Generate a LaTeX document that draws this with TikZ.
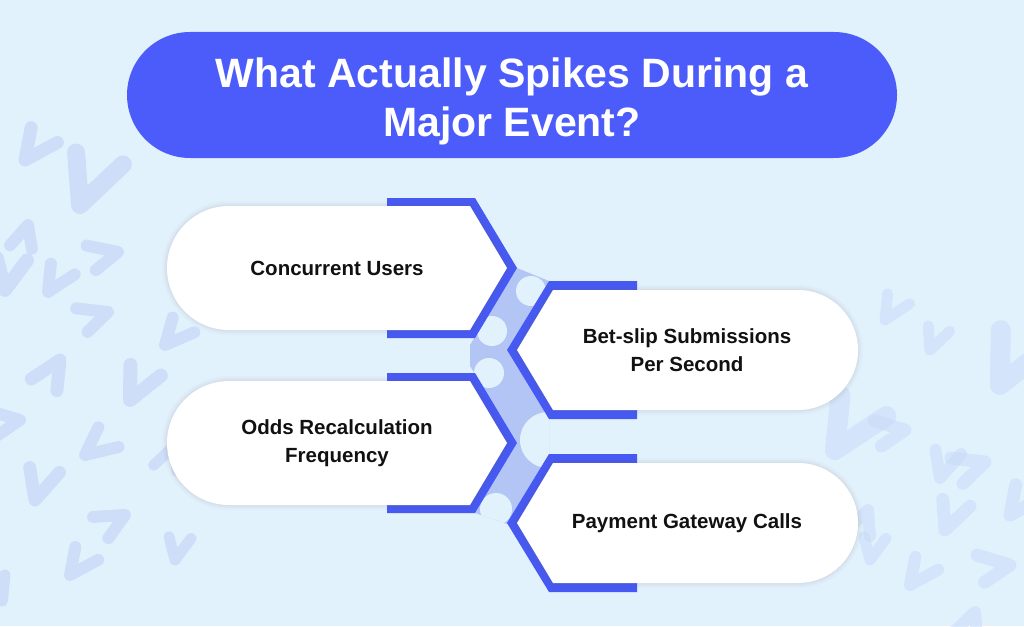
\documentclass[tikz,border=0pt]{standalone}
\usepackage{fontspec}
\setmainfont{Liberation Sans}
\definecolor{bgc}{HTML}{E2F2FD}
\definecolor{vpat}{HTML}{C9DAF9}
\definecolor{titleblue}{HTML}{4B5CFB}
\definecolor{edgeblue}{HTML}{4659F3}
\definecolor{bandc}{HTML}{B2C5F5}
\definecolor{txt}{HTML}{111111}
\tikzset{
  vmk/.style={draw=vpat, line cap=round, line join=round},
  cardtext/.style={text=txt, align=center, font=\bfseries\fontsize{20.5}{28}\selectfont},
  titletext/.style={text=white, align=center, font=\bfseries\fontsize{41}{49}\selectfont},
  cardhalo/.style={preaction={draw=black!60, draw opacity=0.03, line width=10pt},
                   preaction={draw=black!60, draw opacity=0.04, line width=6pt},
                   preaction={draw=black!60, draw opacity=0.05, line width=2.5pt}},
}
\newcommand\bgv[5]{\draw[vmk, line width=#5, shift={(#1,#2)}, rotate=#3, scale=#4] (-0.45,-1) -- (0,0) -- (0.55,-1.1);}
\newcommand\leftcard[3]{%
  \fill[edgeblue] (387,#2-70) -- (475,#2-70) -- (517,#2) -- (475,#2+70) -- (387,#2+70) -- cycle;
  \fill[white, cardhalo] (229,#2-62) -- (470,#2-62) -- (507,#2) -- (470,#2+62) -- (229,#2+62) arc[start angle=90, end angle=270, radius=62] -- cycle;
  \node[cardtext] (#1) at (337,#2) {#3};
}
\newcommand\rightcard[3]{%
  \fill[edgeblue] (507,#2) -- (549,#2-69) -- (637,#2-69) -- (637,#2+69) -- (549,#2+69) -- cycle;
  \fill[white, cardhalo] (517,#2) -- (553,#2-60) -- (798,#2-60) arc[start angle=270, end angle=450, radius=60] -- (553,#2+60) -- cycle;
  \node[cardtext] (#1) at (687,#2) {#3};
}
\begin{document}
\begin{tikzpicture}[x=1pt, y=-1pt]
\useasboundingbox (0,0) rectangle (1024,626);
\fill[bgc] (0,0) rectangle (1024,626);
% background pattern, left
\begin{scope}[opacity=0.8]
\bgv{25}{160}{-35}{30}{13}
\bgv{80}{205}{-20}{48}{18}
\bgv{28}{225}{165}{22}{12}
\bgv{118}{252}{105}{26}{12}
\bgv{48}{292}{-30}{26}{12}
\bgv{108}{312}{110}{26}{12}
\bgv{5}{290}{-10}{30}{14}
\bgv{165}{345}{-40}{26}{12}
\bgv{60}{360}{150}{28}{13}
\bgv{130}{400}{-25}{32}{14}
\bgv{20}{420}{100}{26}{12}
\bgv{85}{455}{-50}{28}{12}
\bgv{175}{445}{160}{24}{11}
\bgv{35}{500}{-15}{30}{13}
\bgv{125}{515}{120}{26}{12}
\bgv{70}{575}{-35}{26}{12}
\bgv{175}{560}{-10}{22}{11}
\bgv{5}{575}{150}{24}{11}
\end{scope}
% background pattern, right
\begin{scope}[opacity=0.55]
\bgv{1000}{385}{-25}{50}{20}
\bgv{905}{430}{100}{26}{13}
\bgv{835}{450}{-30}{50}{20}
\bgv{940}{478}{-15}{26}{12}
\bgv{985}{462}{110}{28}{13}
\bgv{1010}{515}{-35}{28}{13}
\bgv{868}{510}{160}{24}{12}
\bgv{945}{530}{-20}{28}{13}
\bgv{1010}{565}{100}{28}{13}
\bgv{910}{585}{-35}{26}{12}
\bgv{975}{612}{160}{24}{12}
\bgv{870}{560}{-10}{22}{11}
\bgv{930}{350}{-20}{22}{11}
\bgv{885}{320}{-30}{24}{11}
\end{scope}
% title
\fill[titleblue] (190,32) -- (834,32) arc[start angle=270, end angle=450, radius=63] -- (190,158) arc[start angle=90, end angle=270, radius=63] -- cycle;
\node[titletext] (title) at (512,101) {What Actually Spikes During a\\Major Event?};
% connecting band
\begin{scope}
\clip (517,268) -- (549,281) -- (507,350) -- (549,419) -- (549,455) -- (507,524) -- (475,513) -- (517,443) -- (470,366) -- (470,345) -- cycle;
\fill[bandc] (440,260) rectangle (580,530);
\fill[bgc] (531,291) circle[radius=15];
\fill[bgc] (492,331) circle[radius=15];
\fill[bgc] (489,373) circle[radius=15];
\fill[bgc] (548,440) circle[radius=28];
\fill[bgc] (496,509) circle[radius=16];
\end{scope}
% cards
\leftcard{c1}{268}{Concurrent Users}
\rightcard{c2}{350}{Bet-slip Submissions\\Per Second}
\leftcard{c3}{443}{Odds Recalculation\\Frequency}
\rightcard{c4}{523}{Payment Gateway Calls}
\end{tikzpicture}
\end{document}
